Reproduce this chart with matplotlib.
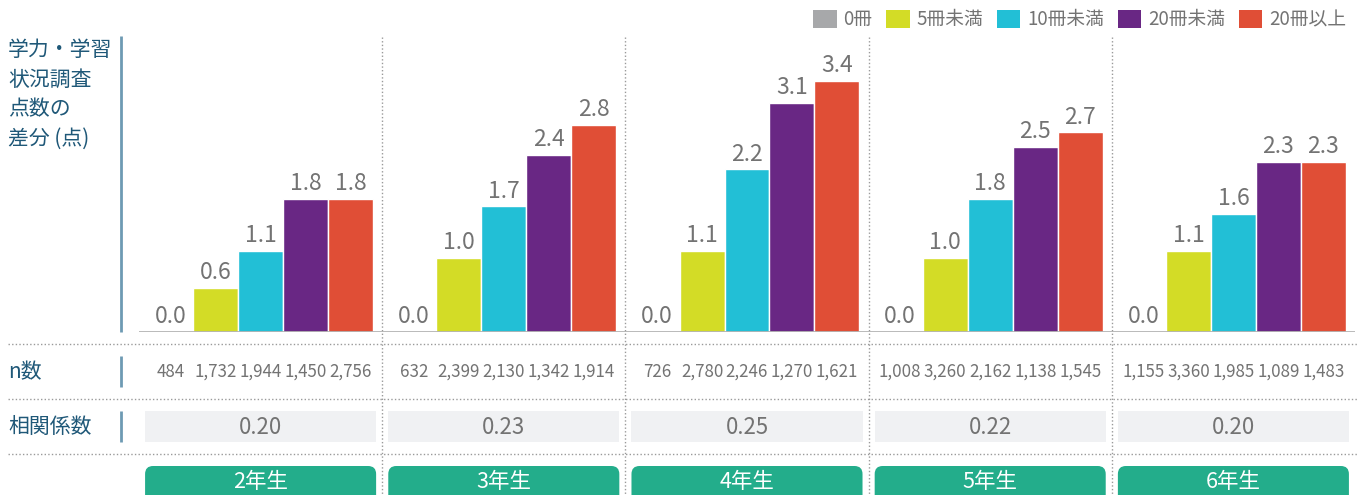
import matplotlib
matplotlib.use("Agg")
import matplotlib.pyplot as plt
from matplotlib.patches import Rectangle, FancyBboxPatch, Patch

plt.rcParams['font.family'] = ['Noto Sans CJK JP', 'DejaVu Sans']

# data
grades = ["2年生", "3年生", "4年生", "5年生", "6年生"]
series = ["0冊", "5冊未満", "10冊未満", "20冊未満", "20冊以上"]
colors = ["#a7a8aa", "#d3dc26", "#22bfd6", "#692784", "#e04e36"]
diff = [
    [0.0, 0.6, 1.1, 1.8, 1.8],
    [0.0, 1.0, 1.7, 2.4, 2.8],
    [0.0, 1.1, 2.2, 3.1, 3.4],
    [0.0, 1.0, 1.8, 2.5, 2.7],
    [0.0, 1.1, 1.6, 2.3, 2.3],
]
n_counts = [
    ["484", "1,732", "1,944", "1,450", "2,756"],
    ["632", "2,399", "2,130", "1,342", "1,914"],
    ["726", "2,780", "2,246", "1,270", "1,621"],
    ["1,008", "3,260", "2,162", "1,138", "1,545"],
    ["1,155", "3,360", "1,985", "1,089", "1,483"],
]
corr = ["0.20", "0.23", "0.25", "0.22", "0.20"]

GRAY_TXT = "#737373"
BLUE_TXT = "#1f5878"
BAR_W = 0.185

W, H = 1368, 495
fig = plt.figure(figsize=(W / 100, H / 100), dpi=100)

# bar area
ax = fig.add_axes([139 / W, 163 / H, 1216 / W, 295.6 / H])
ax.set_facecolor("none")
ax.set_xlim(-0.5, 4.5)
ax.set_ylim(0, 4.0)
ax.axis("off")

for i, (name, c) in enumerate(zip(series, colors)):
    xs = [g + (i - 2) * BAR_W for g in range(len(grades))]
    vals = [d[i] for d in diff]
    ax.bar(xs, vals, width=BAR_W, color=c, edgecolor="white", linewidth=1, label=name, zorder=3)
    for x, v in zip(xs, vals):
        ax.text(x, v + 0.12, f"{v:.1f}", ha="center", va="baseline",
                fontsize=16.5, color=GRAY_TXT, zorder=4)
ax.axhline(0, color="#b3b3b3", lw=2, zorder=5)

# overlay in pixel coordinates for the table part
ov = fig.add_axes([0, 0, 1, 1], zorder=-1)
ov.set_xlim(0, W)
ov.set_ylim(H, 0)
ov.axis("off")


def gx(v):
    return ax.transData.transform((v, 0))[0]


dot = (0, (1, 1.6))
ov.vlines([gx(g + 0.5) for g in range(len(grades) - 1)], 37, H,
          colors="#9a9a9a", linestyles=dot, lw=1)
ov.hlines([344, 399, 454], 8, 1357, colors="#9a9a9a", linestyles=dot, lw=1)

# left labels
for y0, y1 in [(36, 332), (356, 387), (411, 442)]:
    ov.plot([121, 121], [y0, y1], color="#6e9ab3", lw=2, solid_capstyle="butt")
ov.text(8, 39, "学力・学習\n状況調査\n点数の\n差分 (点)", ha="left", va="top",
        fontsize=15, color=BLUE_TXT, linespacing=1.45)
ov.text(8, 372, "n数", ha="left", va="center", fontsize=15, color=BLUE_TXT)
ov.text(8, 427, "相関係数", ha="left", va="center", fontsize=15, color=BLUE_TXT)

for g in range(len(grades)):
    for i in range(len(series)):
        ov.text(gx(g + (i - 2) * BAR_W), 372, n_counts[g][i], ha="center", va="center",
                fontsize=12.2, color=GRAY_TXT)
    x0, x1 = gx(g - 0.475), gx(g + 0.475)
    ov.add_patch(Rectangle((x0, 411), x1 - x0, 31, facecolor="#f0f1f3", edgecolor="none"))
    ov.text((x0 + x1) / 2, 427, corr[g], ha="center", va="center", fontsize=16, color=GRAY_TXT)
    ov.add_patch(FancyBboxPatch((x0, 466), x1 - x0, 45,
                                boxstyle="round,pad=0,rounding_size=8",
                                facecolor="#23ad8b", edgecolor="none"))
    ov.text((x0 + x1) / 2, 482, grades[g], ha="center", va="center", fontsize=15.5, color="white")

# legend
handles = [Patch(facecolor=c, edgecolor="none", label=s) for s, c in zip(series, colors)]
fig.legend(handles=handles, loc="center right", bbox_to_anchor=(1346 / W, 1 - 20 / H),
           ncol=5, frameon=False, fontsize=13.5, labelcolor=GRAY_TXT,
           handlelength=1.25, handleheight=1.1, handletextpad=0.35,
           columnspacing=0.75, borderpad=0, borderaxespad=0)

fig.savefig("out.png", dpi=100)
